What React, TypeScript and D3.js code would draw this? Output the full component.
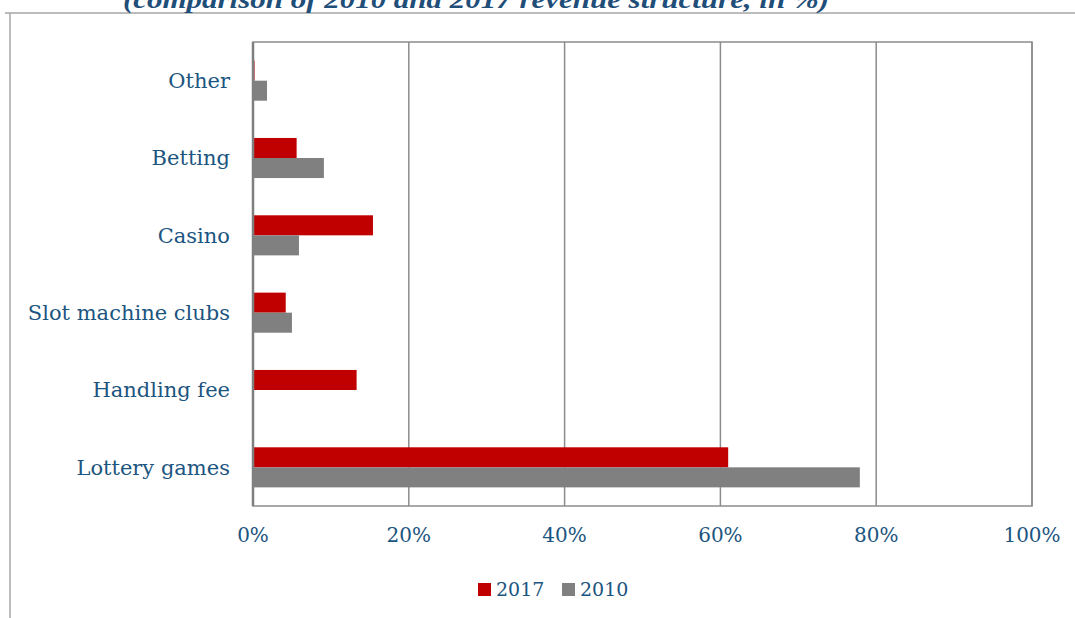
import { useEffect, useRef } from "react";
import * as d3 from "d3";

const categories = ["Lottery games", "Handling fee", "Slot machine clubs", "Casino", "Betting", "Other"];
const values2017 = [61.0, 13.3, 4.2, 15.4, 5.6, 0.2];
const values2010 = [77.9, 0, 5.0, 5.9, 9.1, 1.8];
const xTicks = [0, 20, 40, 60, 80, 100];
const seriesNames = ["2017", "2010"];
const seriesColors = ["#c00000", "#808080"];

export default function App() {
  const ref = useRef<SVGSVGElement>(null);

  useEffect(() => {
    if (!ref.current) return;
    const svg = d3.select(ref.current);
    svg.selectAll("*").remove();

    const W = 1075;
    const H = 618;
    const plot = { left: 253, right: 1032, top: 42, bottom: 506 };
    const textColor = "#1c5580";
    const font = "'DejaVu Serif', serif";

    // cadre extérieur
    svg.append("line").attr("x1", 10).attr("x2", 10).attr("y1", 13).attr("y2", H)
      .attr("stroke", "#a6a6a6").attr("stroke-width", 1.5);
    svg.append("line").attr("x1", 5).attr("x2", W).attr("y1", 13).attr("y2", 13)
      .attr("stroke", "#a6a6a6").attr("stroke-width", 1.5);

    // titre coupé
    svg.append("text")
      .attr("x", 123).attr("y", 8)
      .attr("font-family", "'Liberation Serif', serif").attr("font-size", 25)
      .attr("font-style", "italic").attr("font-weight", "bold")
      .attr("fill", "#1f4e79")
      .attr("textLength", 706).attr("lengthAdjust", "spacingAndGlyphs")
      .text("(comparison of 2010 and 2017 revenue structure, in %)");

    const x = d3.scaleLinear().domain([0, 100]).range([plot.left, plot.right]);
    const y = d3.scaleBand<string>()
      .domain([...categories].reverse())
      .range([plot.top, plot.bottom])
      .paddingInner(0)
      .paddingOuter(0);
    const inner = d3.scaleBand<string>()
      .domain(seriesNames)
      .range([0, y.bandwidth()])
      .paddingInner(0)
      .paddingOuter(0.93);

    // grille
    svg.append("g").selectAll("line").data(xTicks).enter().append("line")
      .attr("x1", (d) => x(d)).attr("x2", (d) => x(d))
      .attr("y1", plot.top).attr("y2", plot.bottom)
      .attr("stroke", "#8c8c8c").attr("stroke-width", 1.5);
    svg.append("rect")
      .attr("x", plot.left).attr("y", plot.top)
      .attr("width", plot.right - plot.left).attr("height", plot.bottom - plot.top)
      .attr("fill", "none").attr("stroke", "#8c8c8c").attr("stroke-width", 1.5);

    // barres
    const series = [values2017, values2010];
    series.forEach((vals, si) => {
      svg.append("g").selectAll("rect").data(categories).enter().append("rect")
        .attr("x", x(0) + 1)
        .attr("y", (d) => (y(d) || 0) + (inner(seriesNames[si]) || 0))
        .attr("width", (_d, i) => Math.max(0, x(vals[i]) - x(0) - 1))
        .attr("height", inner.bandwidth())
        .attr("fill", seriesColors[si]);
    });

    // axe gauche
    svg.append("line").attr("x1", x(0)).attr("x2", x(0))
      .attr("y1", plot.top).attr("y2", plot.bottom)
      .attr("stroke", "#7f7f7f").attr("stroke-width", 2.5);

    // étiquettes des catégories
    svg.append("g").selectAll("text").data(categories).enter().append("text")
      .attr("x", 230)
      .attr("y", (d) => (y(d) || 0) + y.bandwidth() / 2)
      .attr("dy", "0.35em")
      .attr("text-anchor", "end")
      .attr("font-family", font).attr("font-size", 21)
      .attr("fill", textColor)
      .text((d) => d);

    // étiquettes de l'axe X
    svg.append("g").selectAll("text").data(xTicks).enter().append("text")
      .attr("x", (d) => x(d))
      .attr("y", 542)
      .attr("text-anchor", "middle")
      .attr("font-family", font).attr("font-size", 20)
      .attr("fill", textColor)
      .text((d) => `${d}%`);

    // légende
    const legendX = [478, 562];
    seriesNames.forEach((name, i) => {
      svg.append("rect").attr("x", legendX[i]).attr("y", 583)
        .attr("width", 13).attr("height", 13).attr("fill", seriesColors[i]);
      svg.append("text").attr("x", legendX[i] + 18).attr("y", 596)
        .attr("font-family", font).attr("font-size", 19)
        .attr("fill", textColor).text(name);
    });
  }, []);

  return (
    <svg
      ref={ref}
      width={1075}
      height={618}
      style={{ position: "absolute", left: 0, top: 0, background: "#fff" }}
    />
  );
}
